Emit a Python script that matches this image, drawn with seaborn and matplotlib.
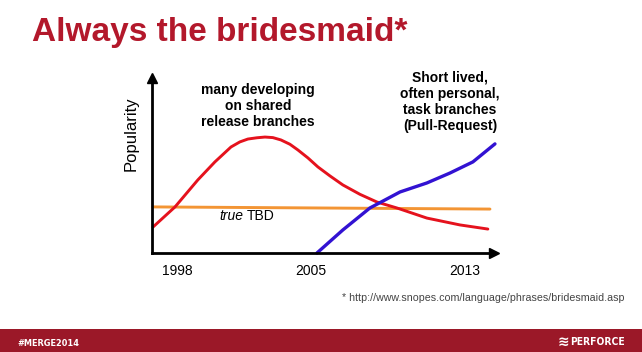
import matplotlib
matplotlib.use("Agg")
import matplotlib.pyplot as plt
from matplotlib import font_manager
from matplotlib.font_manager import FontProperties
import seaborn as sns
import pandas as pd

# ---- data ----
red_years = [1996.75, 1997.90, 1999.09, 1999.98, 2000.82, 2001.28, 2001.70, 2002.17,
             2002.59, 2003.00, 2003.42, 2003.89, 2004.31, 2004.83, 2005.35, 2005.98,
             2006.65, 2007.54, 2008.43, 2009.47, 2011.03, 2012.75, 2014.21]
red_vals = [14.4, 25.6, 40.6, 50.6, 58.9, 61.7, 63.3, 64.0,
            64.4, 64.1, 62.8, 60.4, 57.2, 52.8, 47.8, 42.8,
            37.8, 32.6, 28.3, 25.0, 19.4, 15.6, 13.3]

orange_years = [1996.75, 2005.5, 2014.32]
orange_vals = [25.6, 25.0, 24.4]

blue_years = [2005.30, 2006.65, 2008.06, 2009.63, 2011.03, 2012.23, 2013.43, 2014.58]
blue_vals = [0.0, 12.8, 25.0, 33.9, 38.9, 44.4, 50.6, 60.6]

tick_years = [1998, 2005, 2013]
tick_labels = ["1998", "2005", "2013"]

title = "Always the bridesmaid*"
red_note = "many developing\non shared\nrelease branches"
blue_note = "Short lived,\noften personal,\ntask branches\n(Pull-Request)"
footnote = "* http://www.snopes.com/language/phrases/bridesmaid.asp"

# ---- style ----
sns.set_theme(style="white")
plt.rcParams['font.family'] = ['Liberation Sans', 'DejaVu Sans']

# find a condensed bold font if installed
cond = None
for f in font_manager.fontManager.ttflist:
    if ("Narrow" in f.name or "Condensed" in f.name or str(f.stretch) in ("condensed", "semi-condensed")) \
            and str(f.weight) in ("bold", "700", "heavy"):
        cond = f.fname
        break
if cond:
    fp_merge = FontProperties(fname=cond, size=6.6)
    fp_perf = FontProperties(fname=cond, size=7.4)
else:
    fp_merge = FontProperties(family="Liberation Sans", weight="bold", size=6.6)
    fp_perf = FontProperties(family="Liberation Sans", weight="bold", size=7.2)

W, H = 642, 352
fig = plt.figure(figsize=(W / 100, H / 100), dpi=100)
fig.patch.set_facecolor("white")

L, R, B, T = 152, 494, 253, 78
ax = fig.add_axes([L / W, (H - B) / H, (R - L) / W, (B - T) / H])
ax.set_facecolor("none")

RED = "#e5121d"
ORANGE = "#f39534"
BLUE = "#3212d2"

df_o = pd.DataFrame({"year": orange_years, "val": orange_vals})
df_r = pd.DataFrame({"year": red_years, "val": red_vals})
df_b = pd.DataFrame({"year": blue_years, "val": blue_vals})

lw = 2.1
sns.lineplot(data=df_o, x="year", y="val", ax=ax, color=ORANGE, linewidth=lw, clip_on=False)
sns.lineplot(data=df_r, x="year", y="val", ax=ax, color=RED, linewidth=lw, clip_on=False)
sns.lineplot(data=df_b, x="year", y="val", ax=ax, color=BLUE, linewidth=lw + 0.3, clip_on=False)
for line in ax.get_lines():
    line.set_solid_joinstyle("round")
    line.set_solid_capstyle("round")

ax.set_xlim(1996.70, 2014.53)
ax.set_ylim(0, 97.2)

for s in ["top", "right"]:
    ax.spines[s].set_visible(False)
for s in ["left", "bottom"]:
    ax.spines[s].set_color("black")
    ax.spines[s].set_linewidth(2.0)
ax.plot(1, 0, marker=">", color="black", markersize=7, transform=ax.transAxes, clip_on=False)
ax.plot(0, 1, marker="^", color="black", markersize=7, transform=ax.transAxes, clip_on=False)

ax.set_xticks(tick_years)
ax.set_xticklabels(tick_labels)
ax.set_yticks([])
ax.tick_params(axis="x", length=0, pad=8, labelsize=10, labelcolor="black")
ax.set_xlabel("")
ax.set_ylabel("")

ax.text(-0.061, 0.683, "Popularity", transform=ax.transAxes, rotation=90,
        ha="center", va="center", fontsize=12, color="black")

ax.text(2002.22, 81.7, red_note, ha="center", va="center", multialignment="center",
        fontsize=10, fontweight="bold", color="black", linespacing=1.2)
ax.text(2012.23, 83.9, blue_note, ha="center", va="center", multialignment="center",
        fontsize=10, fontweight="bold", color="black", linespacing=1.2)
ax.text(2001.46, 20.6, "true", ha="right", va="center", fontsize=10,
        fontstyle="italic", color="black")
ax.text(2001.62, 20.6, "TBD", ha="left", va="center", fontsize=10, color="black")

# ---- title, footnote, footer ----
fig.text(32 / W, (H - 41) / H, title, ha="left", va="baseline", fontsize=24,
         fontweight="bold", color="#b3182b")
fig.text(342 / W, (H - 298) / H, footnote, ha="left", va="center", fontsize=7.7,
         color="#444444")

band = plt.Rectangle((0, 0), 1, 23 / H, transform=fig.transFigure,
                     facecolor="#9b1828", edgecolor="none", zorder=0)
fig.patches.append(band)
fig.text(17 / W, (H - 344) / H, "#MERGE2014", ha="left", va="center",
         fontproperties=fp_merge, color="white")
fig.text(625 / W, (H - 342) / H, "PERFORCE", ha="right", va="center",
         fontproperties=fp_perf, color="white")
fig.text(563 / W, (H - 342) / H, "\u224b", ha="center", va="center", fontsize=10,
         fontweight="bold", color="white", family=['DejaVu Sans'])

fig.savefig("out.png", dpi=100)
